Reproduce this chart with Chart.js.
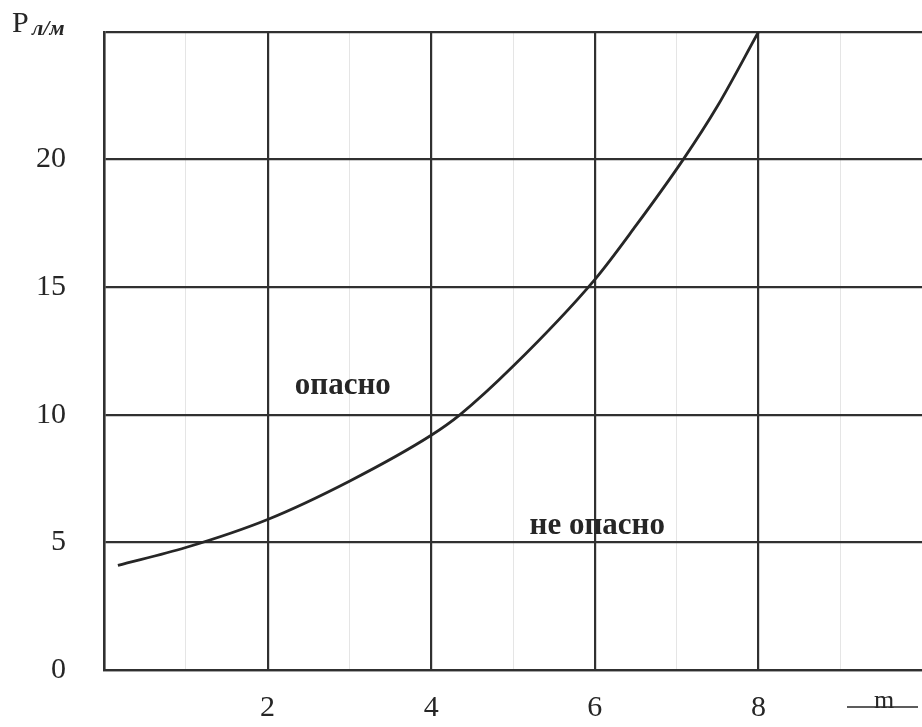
<!DOCTYPE html>
<html>
<head>
<meta charset="utf-8">
<script src="https://cdn.jsdelivr.net/npm/chart.js@4"></script>
<style>
  body { margin: 0; background: #fff; }
  #wrap { width: 922px; height: 727px; }
</style>
</head>
<body>
<div id="wrap"><canvas id="chart1" width="922" height="727"></canvas></div>
<script>
// curve: m (x) vs P л/м
const mValues = [0.17, 1, 2, 3, 4, 4.35, 5, 6, 6.5, 7.08, 7.5, 8];
const pValues = [4.1, 4.8, 5.9, 7.4, 9.2, 10, 11.9, 15.3, 17.4, 20, 22.1, 25];

const xTicksShown = [2, 4, 6, 8];
const yTicksShown = [0, 5, 10, 15, 20];

// zone captions (data coords, baseline)
const zoneLabels = ["опасно", "не опасно"];
const zoneX = [2.92, 6.03];
const zoneY = [10.8, 5.33];

const ink = "#262626";
const serif = "'Liberation Serif', 'DejaVu Serif', serif";

const points = mValues.map((m, i) => ({ x: m, y: pValues[i] }));

// draws the zone captions, axis names
const textPlugin = {
  id: "texts",
  afterDraw(chart) {
    const ctx = chart.ctx;
    const xs = chart.scales.x, ys = chart.scales.y;
    const area = chart.chartArea;
    ctx.save();
    ctx.fillStyle = ink;
    ctx.font = "bold 31px " + serif;
    ctx.textAlign = "center";
    ctx.textBaseline = "alphabetic";
    for (let i = 0; i < zoneLabels.length; i++) {
      ctx.fillText(zoneLabels[i], xs.getPixelForValue(zoneX[i]), ys.getPixelForValue(zoneY[i]));
    }
    // y axis name  P л/м
    ctx.textAlign = "left";
    ctx.font = "30px " + serif;
    ctx.fillText("P", 12, area.top);
    ctx.font = "italic bold 22px " + serif;
    ctx.fillText("л/м", 32, area.top + 3);
    // x axis name with the rule through it
    const mx = area.right - 38, my = area.bottom + 38;
    ctx.font = "26px " + serif;
    ctx.textAlign = "center";
    ctx.fillText("m", mx, my);
    ctx.strokeStyle = ink;
    ctx.lineWidth = 1.5;
    ctx.beginPath();
    ctx.moveTo(mx - 37, my - 1);
    ctx.lineTo(mx + 34, my - 1);
    ctx.stroke();
    ctx.restore();
  }
};

const ctx = document.getElementById("chart1").getContext("2d");
const myChart = new Chart(ctx, {
  type: "scatter",
  data: {
    datasets: [
      {
        label: "P",
        data: points,
        showLine: true,
        borderColor: ink,
        borderWidth: 2.8,
        pointRadius: 0,
        cubicInterpolationMode: "monotone",
        fill: false,
      },
    ],
  },
  options: {
    responsive: false,
    animation: false,
    devicePixelRatio: 1,
    layout: { padding: { top: 32, right: 0, left: 0, bottom: 0 } },
    plugins: { legend: { display: false }, tooltip: { enabled: false } },
    scales: {
      x: {
        type: "linear",
        min: 0,
        max: 10,
        afterFit(scale) {
          scale.height = 57;
          scale.paddingLeft = 0;
          scale.paddingRight = 0;
        },
        ticks: {
          stepSize: 1,
          autoSkip: false,
          maxRotation: 0,
          padding: 20,
          color: ink,
          font: { family: serif, size: 30 },
          callback: (v) => (xTicksShown.includes(v) ? String(v) : ""),
        },
        grid: {
          drawTicks: false,
          color: (c) => {
            const v = c.tick.value;
            if (v === 10) return "rgba(0,0,0,0)";
            return v % 2 === 0 ? "#303030" : "rgba(0,0,0,0.1)";
          },
          lineWidth: (c) => (c.tick.value % 2 === 0 ? 2.2 : 1),
        },
        border: { color: "#303030", width: 2.2 },
      },
      y: {
        min: 0,
        max: 25,
        afterFit(scale) {
          scale.width = 104;
          scale.paddingTop = 0;
          scale.paddingBottom = 0;
        },
        ticks: {
          stepSize: 5,
          padding: 38,
          color: ink,
          font: { family: serif, size: 30 },
          callback: (v) => (yTicksShown.includes(v) ? String(v) : ""),
        },
        grid: { drawTicks: false, color: "#303030", lineWidth: 2.2 },
        border: { color: "#303030", width: 2.5 },
      },
    },
  },
  plugins: [textPlugin],
});
</script>
</body>
</html>
